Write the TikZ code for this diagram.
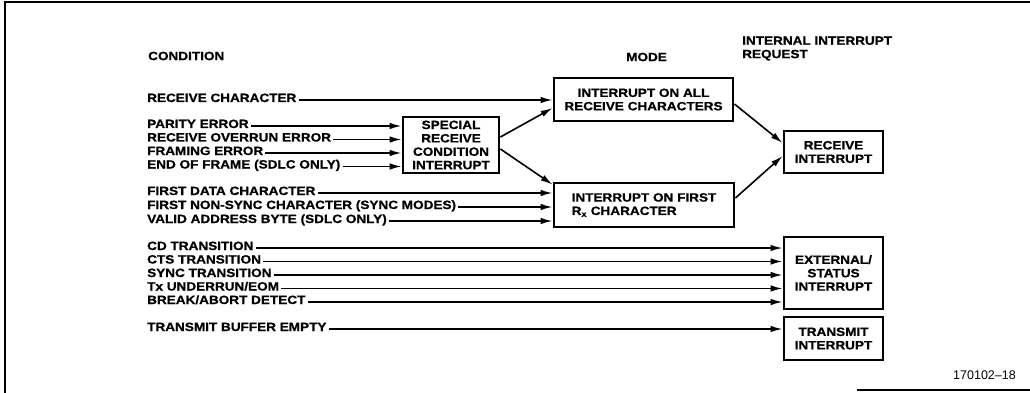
\documentclass[tikz,border=0pt]{standalone}
\usepackage{fontspec}
\setmainfont{Liberation Sans}[FakeStretch=1.13, BoldFeatures={FakeBold=0.8}]
\newfontfamily\idfamily{Liberation Sans}
\usepackage{tikz}
\usetikzlibrary{arrows.meta,positioning}
\newcommand\lbfont{\fontsize{12}{13.4}\selectfont\bfseries}
\newcommand\idfont{\idfamily\fontsize{12.5}{14}\selectfont}

\begin{document}
\begin{tikzpicture}[
      x=1pt, y=-1pt,
      box/.style={draw, line width=2.8pt, inner sep=0pt, align=center, font=\lbfont},
      cond/.style={anchor=west, inner sep=0pt, text height=4pt, text depth=0pt, font=\lbfont},
      hdr/.style={anchor=west, inner sep=0pt, align=left, font=\lbfont},
      sig/.style={line width=1.6pt, -{Latex[length=12pt,width=6.5pt]}}
  ]
    \useasboundingbox (0,0) rectangle (1030,393);
    % scanned frame
    \draw[line width=2pt] (5,393) -- (5,2.5) -- (1030,2.5);
    \draw[line width=1.5pt] (857,390) -- (1030,390);
    % column headers
    \node[hdr] (hcond) at (148,56) {CONDITION};
    \node[hdr] (hmode) at (626,57) {MODE};
    \node[hdr] (hreq) at (742,48.5) {INTERNAL INTERRUPT\\REQUEST};
    % boxes
    \node[box, minimum width=96pt, minimum height=56pt] (srci) at (451,145)
      {SPECIAL\\RECEIVE\\CONDITION\\INTERRUPT};
    \node[box, minimum width=179pt, minimum height=43pt] (allrx) at (643.5,99.5)
      {INTERRUPT ON ALL\\RECEIVE CHARACTERS};
    \node[box, align=left, minimum width=180pt, minimum height=44pt] (firstrx) at (644,205)
      {INTERRUPT ON FIRST\\R\textsubscript{x} CHARACTER};
    \node[box, minimum width=99pt, minimum height=42pt] (rxint) at (833.5,152)
      {RECEIVE\\INTERRUPT};
    \node[box, minimum width=99pt, minimum height=72pt] (esint) at (833.5,273)
      {EXTERNAL/\\STATUS\\INTERRUPT};
    \node[box, minimum width=99pt, minimum height=43pt] (txint) at (833.5,338.5)
      {TRANSMIT\\INTERRUPT};
    % conditions
    \node[cond] (rxchar) at (147,100) {RECEIVE CHARACTER};
    \node[cond] (parity) at (147,126) {PARITY ERROR};
    \node[cond] (overrun) at (147,139.5) {RECEIVE OVERRUN ERROR};
    \node[cond] (framing) at (147,153) {FRAMING ERROR};
    \node[cond] (eof) at (147,166.5) {END OF FRAME (SDLC ONLY)};
    \node[cond] (firstdata) at (147,193) {FIRST DATA CHARACTER};
    \node[cond] (nonsync) at (147,207) {FIRST NON-SYNC CHARACTER (SYNC MODES)};
    \node[cond] (validaddr) at (147,221) {VALID ADDRESS BYTE (SDLC ONLY)};
    \node[cond] (cd) at (147,248) {CD TRANSITION};
    \node[cond] (cts) at (147,261.5) {CTS TRANSITION};
    \node[cond] (sync) at (147,275) {SYNC TRANSITION};
    \node[cond] (txeom) at (147,288.5) {Tx UNDERRUN/EOM};
    \node[cond] (brk) at (147,302) {BREAK/ABORT DETECT};
    \node[cond] (tbe) at (147,329) {TRANSMIT BUFFER EMPTY};
    % leader arrows
    \draw[sig] ([xshift=2pt]rxchar.east) -- (rxchar.east -| allrx.west);
    \draw[sig] ([xshift=2pt]parity.east) -- (parity.east -| srci.west);
    \draw[sig] ([xshift=2pt]overrun.east) -- (overrun.east -| srci.west);
    \draw[sig] ([xshift=2pt]framing.east) -- (framing.east -| srci.west);
    \draw[sig] ([xshift=2pt]eof.east) -- (eof.east -| srci.west);
    \draw[sig] ([xshift=2pt]firstdata.east) -- (firstdata.east -| firstrx.west);
    \draw[sig] ([xshift=2pt]nonsync.east) -- (nonsync.east -| firstrx.west);
    \draw[sig] ([xshift=2pt]validaddr.east) -- (validaddr.east -| firstrx.west);
    \draw[sig] ([xshift=2pt]cd.east) -- (cd.east -| esint.west);
    \draw[sig] ([xshift=2pt]cts.east) -- (cts.east -| esint.west);
    \draw[sig] ([xshift=2pt]sync.east) -- (sync.east -| esint.west);
    \draw[sig] ([xshift=2pt]txeom.east) -- (txeom.east -| esint.west);
    \draw[sig] ([xshift=2pt]brk.east) -- (brk.east -| esint.west);
    \draw[sig] ([xshift=2pt]tbe.east) -- (tbe.east -| txint.west);
    % mode links
    \draw[sig] ([yshift=8pt]srci.east) -- ([yshift=-8.5pt]allrx.west);
    \draw[sig] ([yshift=-4pt]srci.east) -- ([yshift=-3pt]firstrx.north west);
    \draw[sig] ([yshift=-4.5pt]allrx.east) -- ([yshift=9pt]rxint.west);
    \draw[sig] ([yshift=7pt]firstrx.east) -- ([yshift=-4pt]rxint.west);
    % figure number
    \node[font=\idfont, anchor=east, inner sep=0pt] (figid) at (1016,375) {170102\textendash18};
  \end{tikzpicture}
\end{document}
